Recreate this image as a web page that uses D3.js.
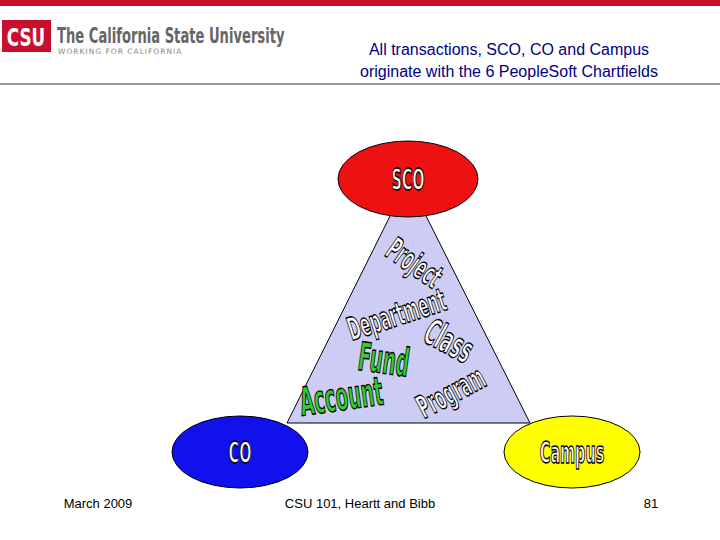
<!DOCTYPE html>
<html><head><meta charset="utf-8">
<script src="https://cdn.jsdelivr.net/npm/d3@7"></script>
<style>body{margin:0;background:#fff}</style>
</head><body>
<svg id="s" width="720" height="540"></svg>
<script>
// Chartfields shown inside the triangle
var fields = ["Project", "Department", "Class", "Fund", "Account", "Program"];
var fieldFill = ["#fff", "#fff", "#fff", "#33cc33", "#33cc33", "#fff"];
var nodes = ["SCO", "CO", "Campus"];
var nodeFill = ["#ee1111", "#1111ee", "#ffff00"];
var nodeText = ["#fff", "#fff", "#fff"];

var svg = d3.select("#s");
svg.append("rect").attr("width", 720).attr("height", 6).attr("fill", "#c8102e");
svg.append("rect").attr("x", 2).attr("y", 20).attr("width", 49).attr("height", 32).attr("fill", "#c8102e");
svg.append("text").attr("transform", "translate(26,46) scale(0.8,1.2)").attr("text-anchor", "middle").attr("fill", "#fff")
  .attr("font-family", "DejaVu Sans").attr("font-weight", "bold").attr("font-size", 21).text("CSU");
svg.append("text").attr("transform", "translate(57,43) scale(0.71,1.15)").attr("fill", "#666")
  .attr("font-family", "DejaVu Sans").attr("font-weight", "bold").attr("font-size", 18.5).text("The California State University");
svg.append("text").attr("x", 58).attr("y", 54).attr("fill", "#888")
  .attr("font-family", "DejaVu Sans").attr("font-size", 7.5).attr("letter-spacing", 1).text("WORKING FOR CALIFORNIA");
svg.append("text").attr("x", 509).attr("y", 55).attr("text-anchor", "middle").attr("fill", "#000080")
  .attr("font-family", "Liberation Sans").attr("font-size", 16).text("All transactions, SCO, CO and Campus");
svg.append("text").attr("x", 509).attr("y", 77).attr("text-anchor", "middle").attr("fill", "#000080")
  .attr("font-family", "Liberation Sans").attr("font-size", 16).text("originate with the 6 PeopleSoft Chartfields");
svg.append("line").attr("x1", 0).attr("x2", 720).attr("y1", 84).attr("y2", 84).attr("stroke", "#777").attr("stroke-width", 1.5);

svg.append("path").attr("d", "M408,180 L287,423 L530,423 Z").attr("fill", "#ccccf5").attr("stroke", "#000").attr("stroke-width", 1);

// word layout: x, y, rotation, font size
var wl = [[408, 272, 35, 22], [400, 325, -18, 22], [443, 352, 28, 25], [382, 373, 8, 27], [343, 410, -8, 27], [456, 402, -28, 22]];
svg.selectAll("text.f").data(fields).join("text").attr("class", "f")
  .attr("transform", function(d, i) { return "translate(" + wl[i][0] + "," + wl[i][1] + ") rotate(" + wl[i][2] + ") scale(0.68,1.45)"; })
  .attr("text-anchor", "middle").attr("font-family", "DejaVu Sans").attr("font-weight", "bold")
  .attr("font-size", function(d, i) { return wl[i][3]; })
  .attr("fill", function(d, i) { return fieldFill[i]; })
  .attr("stroke", "#000").attr("stroke-width", 1).text(function(d) { return d; });

var nl = [[408, 179, 70, 38], [240, 452, 68, 36], [572, 452, 68, 36]];
nodes.forEach(function(n, i) {
  svg.append("ellipse").attr("cx", nl[i][0]).attr("cy", nl[i][1]).attr("rx", nl[i][2]).attr("ry", nl[i][3])
    .attr("fill", nodeFill[i]).attr("stroke", "#000").attr("stroke-width", 1);
  svg.append("text").attr("transform", "translate(" + nl[i][0] + "," + (nl[i][1] + 11) + ") scale(0.72,1.5)")
    .attr("text-anchor", "middle").attr("font-family", "DejaVu Sans").attr("font-weight", "bold").attr("font-size", 20)
    .attr("fill", nodeText[i]).attr("stroke", "#000").attr("stroke-width", 1).text(n);
});

var foot = [["March 2009", 98], ["CSU 101, Heartt and Bibb", 360], ["81", 651]];
foot.forEach(function(f) {
  svg.append("text").attr("x", f[1]).attr("y", 508).attr("text-anchor", "middle")
    .attr("font-family", "Liberation Sans").attr("font-size", 13).text(f[0]);
});
</script>
</body></html>
